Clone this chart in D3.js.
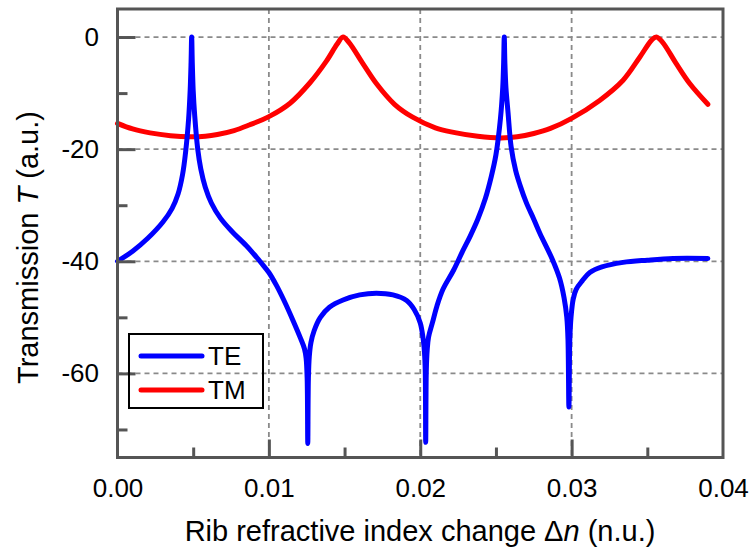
<!DOCTYPE html>
<html>
<head>
<meta charset="utf-8">
<script src="https://cdn.jsdelivr.net/npm/d3@7"></script>
<style>
  html, body { margin: 0; padding: 0; background: #fff; }
  svg { display: block; font-family: Arial, "Liberation Sans", sans-serif; }
</style>
</head>
<body>
<svg id="chart" width="752" height="548"></svg>
<script>
// ---- data ----
const teX = [0, 0.001, 0.002, 0.003, 0.0036, 0.004, 0.0043, 0.0045, 0.0047, 0.0048, 0.00486, 0.0049,
  0.00494, 0.0050, 0.0051, 0.0053, 0.0055, 0.0058, 0.0062, 0.0068, 0.0075, 0.0085, 0.0090, 0.0095,
  0.0100, 0.0105, 0.0110, 0.0116, 0.0121, 0.01235, 0.01246, 0.01253, 0.01257, 0.01261, 0.01267,
  0.01278, 0.0130, 0.0134, 0.0140, 0.0149, 0.0160, 0.0171, 0.0182, 0.0191, 0.0196, 0.0200, 0.0202,
  0.02028, 0.02033, 0.02036, 0.0204, 0.02046, 0.02055, 0.0208, 0.0211, 0.0215, 0.0222, 0.0228,
  0.0233, 0.0238, 0.0243, 0.0247, 0.0250, 0.0253, 0.02545, 0.02551, 0.02555, 0.02559, 0.02566,
  0.0258, 0.0260, 0.0263, 0.0266, 0.0270, 0.0275, 0.0279, 0.02875, 0.0292, 0.0295, 0.02968,
  0.02976, 0.02982, 0.02988, 0.02996, 0.0301, 0.0303, 0.0307, 0.0312, 0.0320, 0.0334, 0.0350,
  0.0367, 0.0390];
const teY = [-40.0, -38.2, -35.9, -33.0, -30.6, -28.0, -24.5, -20.5, -14.5, -9.5, -4.5, 0,
  -4.5, -9.5, -14.0, -20.0, -23.5, -26.8, -29.6, -32.3, -34.5, -37.2, -38.7, -40.3,
  -42.0, -44.3, -47.0, -50.6, -53.8, -55.6, -57.3, -61, -72.5, -61, -57.0,
  -54.5, -52.3, -50.0, -48.2, -46.9, -46.0, -45.7, -46.0, -47.0, -48.6, -51.0, -54.0,
  -56.3, -59.5, -72.3, -59.5, -55.8, -53.5, -51.0, -48.0, -45.0, -41.6, -38.2,
  -35.5, -32.5, -28.8, -24.8, -21.0, -14.5, -9.0, -4.5, 0, -4.5, -9.0,
  -13.5, -19.5, -23.8, -26.5, -29.5, -32.5, -35.0, -39.8, -43.0, -46.5, -50.0,
  -54, -66, -54, -50.0, -46.8, -45.0, -43.5, -42.0, -41.0, -40.2, -39.8,
  -39.5, -39.5];

const tmX = [0, 0.001, 0.00215, 0.0035, 0.0048, 0.0058, 0.0066, 0.0077, 0.0087, 0.0100, 0.0114,
  0.0127, 0.0138, 0.0145, 0.0149, 0.0153, 0.0162, 0.0171, 0.0183, 0.0195, 0.0210, 0.0222, 0.0238,
  0.0253, 0.0264, 0.0275, 0.0286, 0.0300, 0.03185, 0.0334, 0.0345, 0.0353, 0.0356, 0.0360, 0.0369,
  0.0378, 0.0390];
const tmY = [-15.4, -16.4, -17.1, -17.6, -17.8, -17.7, -17.4, -16.7, -15.7, -14.2, -11.8,
  -8.2, -4.3, -1.3, 0, -1.0, -4.7, -8.3, -12.0, -14.3, -16.2, -17.0, -17.7,
  -18.0, -17.8, -17.2, -16.3, -14.5, -11.3, -7.7, -3.6, -0.5, 0, -0.9, -4.7,
  -8.3, -12.0];

const seriesNames = ["TE", "TM"];
const seriesColors = ["#0000ff", "#ff0000"];
const xTicks = [0, 0.01, 0.02, 0.03, 0.04];
const xMinorTicks = [0.005, 0.015, 0.025, 0.035];
const yTicks = [0, -20, -40, -60];
const yMinorTicks = [-10, -30, -50, -70];
const xDomain = [0, 0.04];
const yDomain = [-75, 5];
const xTitle = "Rib refractive index change ";
const yTitle = "Transmission ";

// ---- layout ----
const svg = d3.select("#chart");
const L = 117.5, R = 723, T = 9, B = 457.5;
const x = d3.scaleLinear().domain(xDomain).range([L, R]);
const y = d3.scaleLinear().domain(yDomain).range([B, T]);

const frameColor = "#555555";
const gridColor = "#8a8a8a";

// gridlines
const grid = svg.append("g");
grid.selectAll("line.gx").data(xTicks.filter(d => d > xDomain[0] && d < xDomain[1]))
  .enter().append("line")
  .attr("x1", d => x(d)).attr("x2", d => x(d)).attr("y1", T).attr("y2", B)
  .attr("stroke", gridColor).attr("stroke-width", 1.8).attr("stroke-dasharray", "5,4");
grid.selectAll("line.gy").data(yTicks)
  .enter().append("line")
  .attr("y1", d => y(d)).attr("y2", d => y(d)).attr("x1", L).attr("x2", R)
  .attr("stroke", gridColor).attr("stroke-width", 1.8).attr("stroke-dasharray", "5,4");

// curves
const line = d3.line().x(d => x(d[0])).y(d => y(d[1])).curve(d3.curveCatmullRom.alpha(0.5));
const teData = teX.map((v, i) => [v, teY[i]]);
const tmData = tmX.map((v, i) => [v, tmY[i]]);
svg.append("path").datum(tmData).attr("d", line)
  .attr("fill", "none").attr("stroke", seriesColors[1]).attr("stroke-width", 5)
  .attr("stroke-linecap", "round").attr("stroke-linejoin", "round");
svg.append("path").datum(teData).attr("d", line)
  .attr("fill", "none").attr("stroke", seriesColors[0]).attr("stroke-width", 5)
  .attr("stroke-linecap", "round").attr("stroke-linejoin", "round");

// axes
function styleAxis(g) {
  g.select(".domain").remove();
  g.selectAll(".tick line").attr("stroke", frameColor).attr("stroke-width", 3);
  g.selectAll(".tick text").attr("fill", "#000").attr("font-size", 26)
    .attr("font-family", "Arial, 'Liberation Sans', sans-serif");
}
const xAxis = svg.append("g").attr("transform", `translate(0,${B})`)
  .call(d3.axisBottom(x).tickValues(xTicks).tickFormat(d3.format(".2f"))
    .tickSizeInner(-18).tickSizeOuter(0).tickPadding(21));
styleAxis(xAxis);
xAxis.selectAll(".tick line").filter(d => d === xDomain[0] || d === xDomain[1]).remove();
const xMinor = svg.append("g").attr("transform", `translate(0,${B})`)
  .call(d3.axisBottom(x).tickValues(xMinorTicks).tickFormat("")
    .tickSizeInner(-10).tickSizeOuter(0));
styleAxis(xMinor);

const yAxis = svg.append("g").attr("transform", `translate(${L},0)`)
  .call(d3.axisLeft(y).tickValues(yTicks).tickFormat(d => String(d))
    .tickSizeInner(-18).tickSizeOuter(0).tickPadding(18.5));
styleAxis(yAxis);
const yMinor = svg.append("g").attr("transform", `translate(${L},0)`)
  .call(d3.axisLeft(y).tickValues(yMinorTicks).tickFormat("")
    .tickSizeInner(-10).tickSizeOuter(0));
styleAxis(yMinor);

// frame
svg.append("rect").attr("x", L).attr("y", T).attr("width", R - L).attr("height", B - T)
  .attr("fill", "none").attr("stroke", frameColor).attr("stroke-width", 3);

// axis titles
const xt = svg.append("text").attr("x", 420).attr("y", 541)
  .attr("text-anchor", "middle").attr("font-size", 29).attr("fill", "#000");
xt.append("tspan").text(xTitle);
xt.append("tspan").text("\u0394");
xt.append("tspan").attr("font-style", "italic").text("n");
xt.append("tspan").text(" (n.u.)");

const yt = svg.append("text").attr("transform", "translate(38,247.5) rotate(-90)")
  .attr("text-anchor", "middle").attr("font-size", 29).attr("fill", "#000");
yt.append("tspan").text(yTitle);
yt.append("tspan").attr("font-style", "italic").text("T");
yt.append("tspan").text(" (a.u.)");

// legend
const lg = svg.append("g");
lg.append("rect").attr("x", 129).attr("y", 334).attr("width", 134).attr("height", 74)
  .attr("fill", "none").attr("stroke", "#000").attr("stroke-width", 2);
const items = lg.selectAll("g.item").data(seriesNames).enter().append("g")
  .attr("transform", (d, i) => `translate(0,${356 + i * 34})`);
items.append("line").attr("x1", 141).attr("x2", 202).attr("y1", 0).attr("y2", 0)
  .attr("stroke", (d, i) => seriesColors[i]).attr("stroke-width", 5).attr("stroke-linecap", "round");
items.append("text").attr("x", 208).attr("y", 9).attr("font-size", 26).attr("fill", "#000").text(d => d);
</script>
</body>
</html>
